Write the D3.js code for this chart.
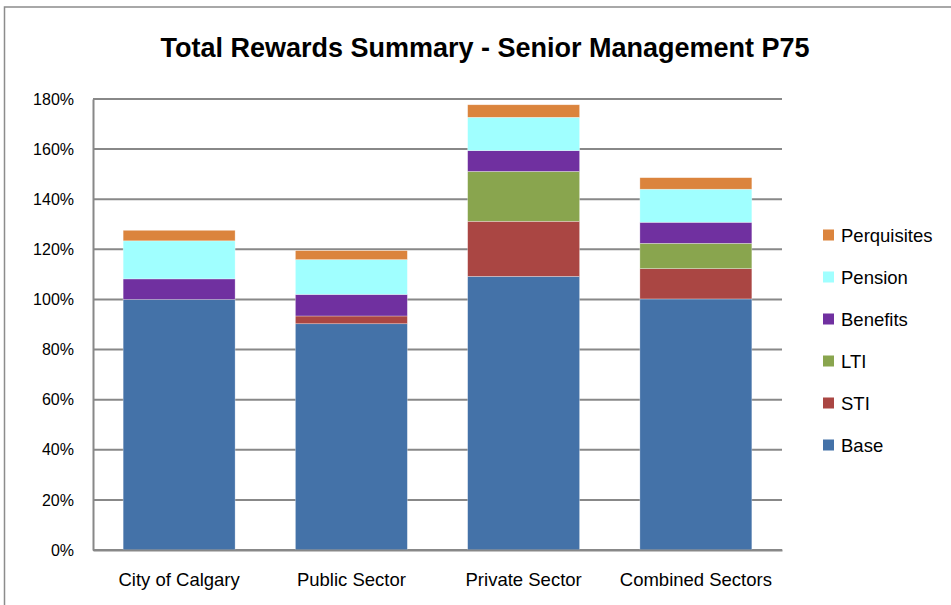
<!DOCTYPE html>
<html>
<head>
<meta charset="utf-8">
<script src="https://cdn.jsdelivr.net/npm/d3@7"></script>
<style>
  body { margin: 0; background: #fff; }
  text { font-family: "Liberation Sans", Arial, sans-serif; fill: #000; }
</style>
</head>
<body>
<div id="chart"></div>
<script>
// data (percent of base pay)
const categories = ["City of Calgary", "Public Sector", "Private Sector", "Combined Sectors"];
const seriesNames = ["Base", "STI", "LTI", "Benefits", "Pension", "Perquisites"];
const base        = [100.0, 90.3, 109.2, 100.2];
const sti         = [0.0, 3.1, 22.0, 12.1];
const lti         = [0.0, 0.0, 19.9, 10.1];
const benefits    = [8.2, 8.6, 8.3, 8.4];
const pension     = [15.2, 13.9, 13.3, 13.2];
const perquisites = [4.2, 3.6, 5.0, 4.6];
const yTicks = [0, 20, 40, 60, 80, 100, 120, 140, 160, 180];

const colors = {
    Base: "#4472a8",
    STI: "#aa4643",
    LTI: "#89a54e",
    Benefits: "#7030a0",
    Pension: "#a0ffff",
    Perquisites: "#db843d"
};

const table = categories.map((c, i) => ({
    cat: c,
    Base: base[i],
    STI: sti[i],
    LTI: lti[i],
    Benefits: benefits[i],
    Pension: pension[i],
    Perquisites: perquisites[i]
}));

const W = 951, H = 605;
const margin = { top: 99, left: 93, right: 169, bottom: 55 };
const width = W - margin.left - margin.right;
const height = H - margin.top - margin.bottom;

const svg = d3.select("#chart")
    .append("svg")
    .attr("width", W)
    .attr("height", H);

// chart frame
svg.append("rect")
    .attr("x", 4.5).attr("y", 7)
    .attr("width", W).attr("height", H)
    .attr("fill", "none")
    .attr("stroke", "#8c8c8c")
    .attr("stroke-width", 1.5);

svg.append("text")
    .attr("x", 485)
    .attr("y", 57)
    .attr("text-anchor", "middle")
    .style("font-size", "27px")
    .style("font-weight", "bold")
    .text("Total Rewards Summary - Senior Management P75");

const g = svg.append("g")
    .attr("transform", `translate(${margin.left},${margin.top})`);

const x = d3.scaleBand()
    .domain(categories)
    .range([0, width])
    .paddingInner(0.35)
    .paddingOuter(0.175);

const y = d3.scaleLinear()
    .domain([0, 180])
    .range([height, 0]);

// gridlines
g.append("g")
    .selectAll("line")
    .data(yTicks)
    .enter()
    .append("line")
    .attr("x1", 0)
    .attr("x2", width)
    .attr("y1", d => y(d))
    .attr("y2", d => y(d))
    .attr("stroke", "#888")
    .attr("stroke-width", 2);

const stacked = d3.stack().keys(seriesNames)(table);

g.selectAll(".layer")
    .data(stacked)
    .enter()
    .append("g")
    .attr("fill", d => colors[d.key])
    .selectAll("rect")
    .data(d => d)
    .enter()
    .append("rect")
    .attr("x", d => x(d.data.cat))
    .attr("y", d => y(d[1]))
    .attr("width", x.bandwidth())
    .attr("height", d => y(d[0]) - y(d[1]))
    .attr("stroke", "#fff")
    .attr("stroke-opacity", 0.5)
    .attr("stroke-width", 0.6);

// y axis
const yAxis = g.append("g")
    .call(d3.axisLeft(y).tickValues(yTicks).tickFormat(d => d + "%").tickSize(0).tickPadding(19));
yAxis.select(".domain").attr("stroke", "#888").attr("stroke-width", 2);
yAxis.selectAll("text").style("font-size", "16px").attr("font-family", null);

// x axis
const xAxis = g.append("g")
    .attr("transform", `translate(0,${height})`)
    .call(d3.axisBottom(x).tickSize(0).tickPadding(23));
xAxis.select(".domain").attr("stroke", "#888").attr("stroke-width", 2);
xAxis.selectAll("text").style("font-size", "18.5px").attr("font-family", null);

// legend
const legendNames = seriesNames.slice().reverse();
const legend = svg.append("g")
    .attr("transform", "translate(823,235)");

const item = legend.selectAll("g")
    .data(legendNames)
    .enter()
    .append("g")
    .attr("transform", (d, i) => `translate(0,${i * 42})`);

item.append("rect")
    .attr("x", 0).attr("y", -5.5)
    .attr("width", 11).attr("height", 11)
    .attr("fill", d => colors[d]);

item.append("text")
    .attr("x", 18)
    .attr("y", 6.5)
    .style("font-size", "18.5px")
    .text(d => d);
</script>
</body>
</html>
